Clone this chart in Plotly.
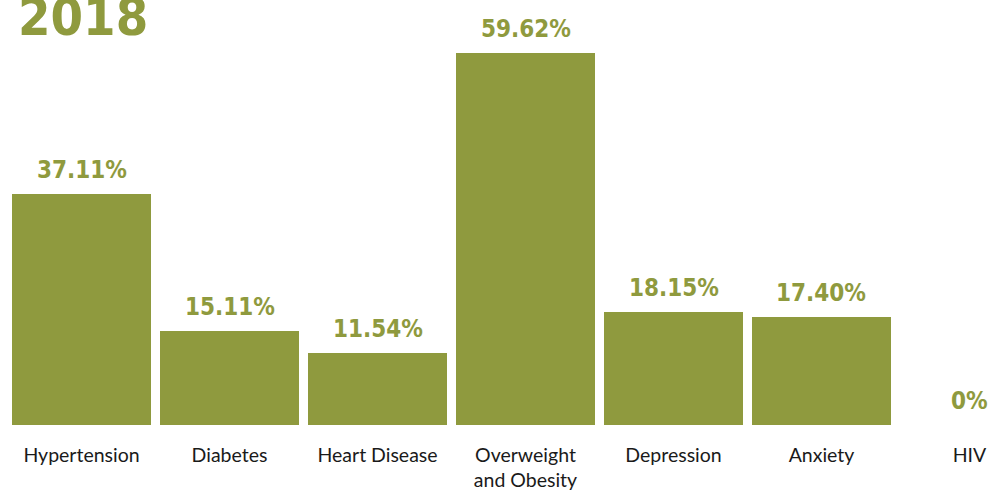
import plotly.graph_objects as go

categories = ["Hypertension", "Diabetes", "Heart Disease", "Overweight<br>and Obesity",
              "Depression", "Anxiety", "HIV"]
values = [37.11, 15.11, 11.54, 59.62, 18.15, 17.40, 0]
value_labels = ["37.11%", "15.11%", "11.54%", "59.62%", "18.15%", "17.40%", "0%"]
title_text = "2018"

OLIVE = "#8F9A3E"
COND = "'DejaVu Sans Condensed', 'Liberation Sans Narrow', 'Roboto Condensed', 'Arial Narrow', sans-serif"
xs = list(range(len(categories)))

fig = go.Figure()
fig.add_trace(go.Bar(x=xs, y=values, marker=dict(color=OLIVE, line=dict(width=0)),
                     width=0.939, hoverinfo="skip"))

for x, v, t in zip(xs, values, value_labels):
    fig.add_annotation(x=x, y=v, text=t, showarrow=False, yanchor="bottom",
                       yshift=8, font=dict(family=COND, size=24,
                                           color=OLIVE, weight="bold"))

fig.add_annotation(xref="paper", yref="paper", x=0.016, y=0.885, xanchor="left",
                   yanchor="bottom", text=title_text, showarrow=False,
                   font=dict(family=COND, size=52, color=OLIVE, weight="bold"))

fig.update_layout(
    width=1005, height=493,
    margin=dict(l=0, r=0, t=0, b=68),
    paper_bgcolor="white", plot_bgcolor="white",
    showlegend=False, bargap=0,
    xaxis=dict(range=[-0.551, 6.240], tickmode="array", tickvals=xs, ticktext=categories,
               showgrid=False, zeroline=False, showline=False, ticks="",
               tickfont=dict(family="Lato", size=19.5, color="#1a1a1a"),
               ticklabelstandoff=16),
    yaxis=dict(range=[0, 68.2], visible=False, showgrid=False, zeroline=False),
)

fig.write_html("out.html")
